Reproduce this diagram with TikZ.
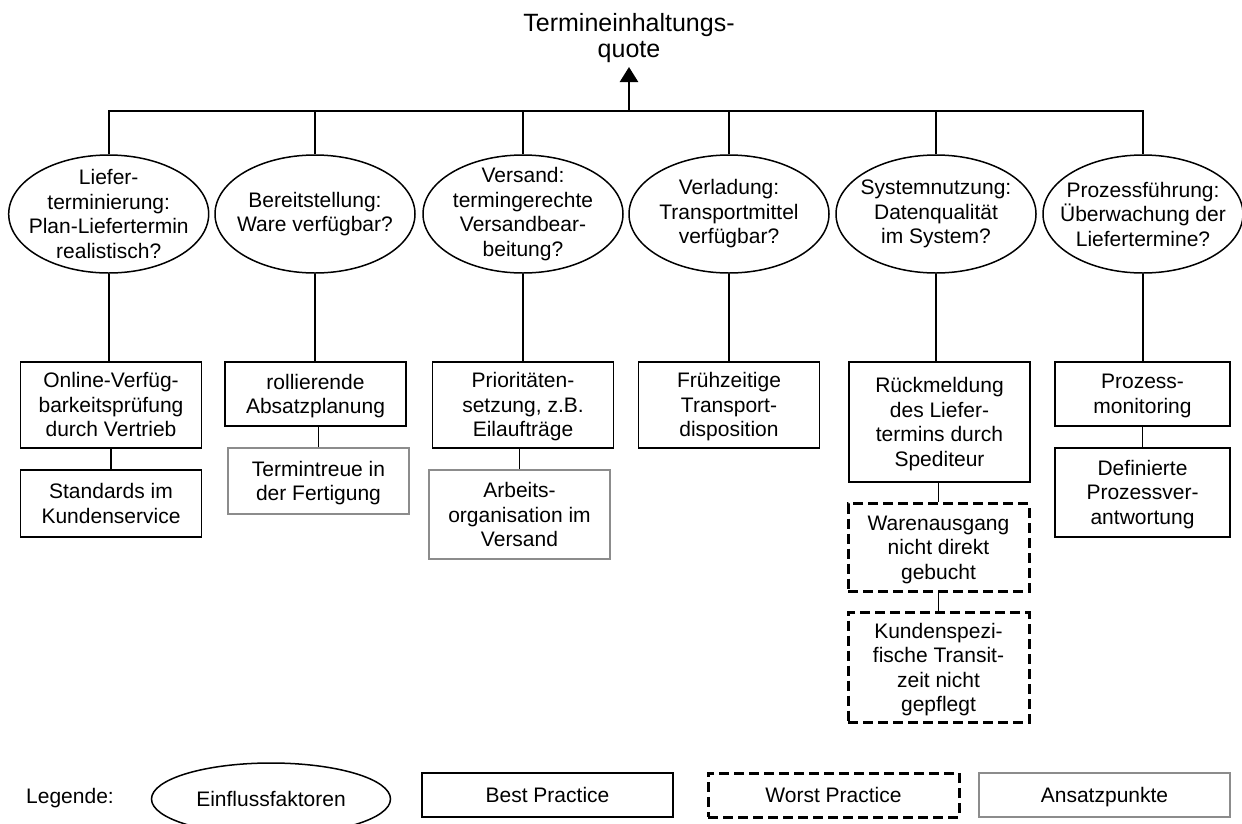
\documentclass[tikz,border=0pt]{standalone}
\usepackage{fontspec}
\setmainfont{Liberation Sans}
\usetikzlibrary{arrows.meta,shapes.geometric}
\tikzset{
  factor/.style    = {ellipse,draw,line width=1.5pt,minimum width=200pt,minimum height=118pt,inner sep=0pt,align=center},
  bestbox/.style   = {draw,line width=1.7pt,minimum width=181pt,inner sep=0pt,text depth=0pt,align=center,anchor=north},
  ansatzbox/.style = {bestbox,draw=black!45,line width=1.8pt},
  worstbox/.style  = {bestbox,line width=3pt,dash pattern=on 10pt off 5pt},
  link/.style      = {line width=1.7pt},
  bus/.style       = {line width=2pt},
  mainarr/.style   = {-{Triangle[length=15pt,width=18pt]},line width=2.5pt}
}

\begin{document}
\begin{tikzpicture}[x=1pt,y=-1pt,font=\fontsize{21}{24.5}\selectfont]
  \useasboundingbox (0,0) rectangle (1242,823);

  % goal and collecting line
  \node[anchor=south,inner sep=0pt,align=center,font=\fontsize{25}{26}\selectfont] (title) at (629,63) {Termineinhaltungs-\\quote};
  \coordinate (top) at (629,111);

  % influencing factors
  \node[factor,label={[align=center]center:{Liefer-\\terminierung:\\Plan-Liefertermin\\realistisch?}}] (f1) at (108.7,214) {};
  \node[factor,label={[align=center]center:{Bereitstellung:\\Ware verfügbar?}}] (f2) at (315,214) {};
  \node[factor,label={[align=center]center:{Versand:\\termingerechte\\Versandbear-\\beitung?}}] (f3) at (523,214) {};
  \node[factor,label={[align=center]center:{Verladung:\\Transportmittel\\verfügbar?}}] (f4) at (729,214) {};
  \node[factor,label={[align=center]center:{Systemnutzung:\\Datenqualität\\im System?}}] (f5) at (936,214) {};
  \node[factor,label={[align=center]center:{Prozessführung:\\Überwachung der\\Liefertermine?}}] (f6) at (1143,214) {};

  % practices below each factor
  \node[bestbox,minimum height=86pt] (b1) at (111,361) {Online-Verfüg-\\barkeitsprüfung\\durch Vertrieb};
  \node[bestbox,minimum height=67pt] (s1) at (111,469) {Standards im\\Kundenservice};
  \node[bestbox,minimum height=64pt] (b2) at (315.5,361) {rollierende\\Absatzplanung};
  \node[ansatzbox,minimum height=66pt] (a2) at (318.5,447) {Termintreue in\\der Fertigung};
  \node[bestbox,minimum height=86pt] (b3) at (523,361) {Prioritäten-\\setzung, z.B.\\Eilaufträge};
  \node[ansatzbox,minimum height=89pt] (a3) at (519.5,469) {Arbeits-\\organisation im\\Versand};
  \node[bestbox,minimum height=86pt] (b4) at (729,361) {Frühzeitige\\Transport-\\disposition};
  \node[bestbox,minimum height=120pt] (b5) at (939.5,361) {Rückmeldung\\des Liefer-\\termins durch\\Spediteur};
  \node[worstbox,minimum height=88pt] (w5) at (938.5,502) {Warenausgang\\nicht direkt\\gebucht};
  \node[worstbox,minimum height=110pt] (w6) at (938.5,611) {Kundenspezi-\\fische Transit-\\zeit nicht\\gepflegt};
  \node[bestbox,minimum width=175pt,minimum height=64pt] (b6) at (1142.5,361) {Prozess-\\monitoring};
  \node[bestbox,minimum width=175pt,minimum height=89pt] (d6) at (1142.5,447) {Definierte\\Prozessver-\\antwortung};

  % connectors
  \draw[mainarr,shorten >=4pt] (top) -- (title.south);
  \draw[bus] (f1.north) |- (top) -| (f6.north);
  \foreach \i in {2,...,5}
    \draw[link] (f\i.north) -- (f\i.north |- top);
  \foreach \i in {1,...,6}
    \draw[link] (f\i.south) -- (f\i.south |- b\i.north);
  \foreach \up/\low in {b1/s1,b2/a2,b3/a3,b5/w5,w5/w6,b6/d6}
    \draw[link] (\low.north) -- (\low.north |- \up.south);

  % legend
  \node[anchor=west,inner sep=0pt] (leg) at (26,798) {Legende:};
  \node[factor,minimum width=239pt,minimum height=72pt] (lf) at (271,799) {Einflussfaktoren};
  \node[bestbox,anchor=center,minimum width=251pt,minimum height=44pt] (lb) at (547.5,795) {Best Practice};
  \node[worstbox,anchor=center,minimum width=251pt,minimum height=44pt] (lw) at (833.5,795) {Worst Practice};
  \node[ansatzbox,anchor=center,minimum width=251pt,minimum height=44pt] (la) at (1104.5,795) {Ansatzpunkte};
\end{tikzpicture}
\end{document}
